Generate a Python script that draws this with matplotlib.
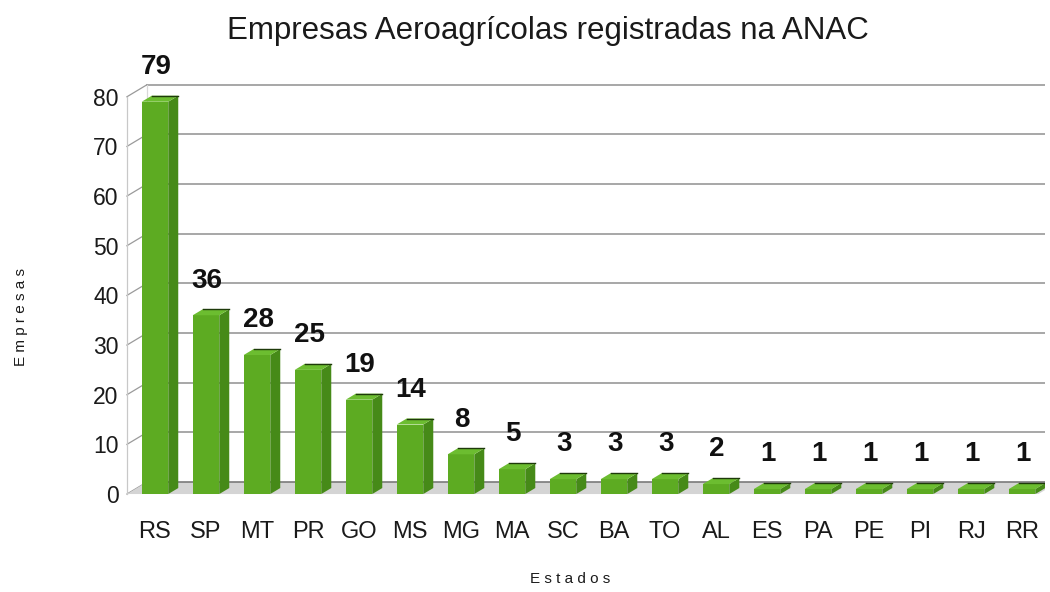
import matplotlib.pyplot as plt
from matplotlib.patches import Polygon

# data
estados = ['RS', 'SP', 'MT', 'PR', 'GO', 'MS', 'MG', 'MA', 'SC',
           'BA', 'TO', 'AL', 'ES', 'PA', 'PE', 'PI', 'RJ', 'RR']
empresas = [79, 36, 28, 25, 19, 14, 8, 5, 3, 3, 3, 2, 1, 1, 1, 1, 1, 1]
yticks = [0, 10, 20, 30, 40, 50, 60, 70, 80]

plt.rcParams['font.family'] = ['Liberation Sans', 'DejaVu Sans']

fig = plt.figure(figsize=(10.5, 5.92), dpi=100)
ax = fig.add_axes([120 / 1050, 92 / 592, 925 / 1050, 438 / 592])
ax.set_xlim(-0.686, 17.45)
ax.set_ylim(-1.2, 87)

# pixel -> data unit conversions for the fake 3d depth
px_x = 925 / (17.45 + 0.686)
px_y = 438 / (87 + 1.2)
wall_dx, wall_dy = 20 / px_x, 12 / px_y
bar_dx, bar_dy = 10 / px_x, 6 / px_y

x_left = -0.55
x_right = 17.32
bw = 0.52

# floor
floor = Polygon([(x_left, 0), (x_right, 0), (x_right + wall_dx, wall_dy),
                 (x_left + wall_dx, wall_dy)], closed=True,
                facecolor='#d4d4d4', edgecolor='none', zorder=1)
ax.add_patch(floor)
ax.plot([x_left + wall_dx, x_right + wall_dx], [wall_dy, wall_dy],
        color='#7a7a7a', lw=1.2, zorder=1.5)

# gridlines on back wall + diagonals on left wall
for v in yticks:
    if v > 0:
        ax.plot([x_left + wall_dx, x_right + wall_dx], [v + wall_dy, v + wall_dy],
                color='#a0a0a0', lw=1.3, zorder=0.5)
    ax.plot([x_left, x_left + wall_dx], [v, v + wall_dy],
            color='#9a9a9a', lw=0.9, zorder=0.5)
ax.plot([x_left, x_left], [0, 80], color='#c8c8c8', lw=0.9, zorder=0.5)
ax.plot([x_left + wall_dx, x_left + wall_dx], [wall_dy, 80 + wall_dy],
        color='#d8d8d8', lw=0.9, zorder=0.5)

# bars
for i, v in enumerate(empresas):
    x0 = i - bw / 2
    x1 = i + bw / 2
    front = Polygon([(x0, 0), (x1, 0), (x1, v), (x0, v)], closed=True,
                    facecolor='#5dab22', edgecolor='none', zorder=3)
    side = Polygon([(x1, 0), (x1 + bar_dx, bar_dy), (x1 + bar_dx, v + bar_dy),
                    (x1, v)], closed=True, facecolor='#468a18',
                   edgecolor='none', zorder=3)
    top = Polygon([(x0, v), (x1, v), (x1 + bar_dx, v + bar_dy),
                   (x0 + bar_dx, v + bar_dy)], closed=True,
                  facecolor='#6cbd30', edgecolor='none', zorder=3)
    for p in (front, side, top):
        ax.add_patch(p)
    ax.plot([x0 + bar_dx, x1 + bar_dx], [v + bar_dy, v + bar_dy],
            color='#1e3a0a', lw=1.0, zorder=3.5)
    ax.text(i + 0.02, v + 7.0, str(v), ha='center', va='center',
            fontsize=20, fontweight='bold', color='#111111', zorder=4)

for s in ax.spines.values():
    s.set_visible(False)
ax.set_xticks(range(len(estados)))
ax.set_xticklabels(estados, fontsize=17, color='#1a1a1a')
ax.set_yticks(yticks)
ax.set_yticklabels([str(v) for v in yticks], fontsize=16.5, color='#1a1a1a')
ax.tick_params(axis='both', length=0)
ax.tick_params(axis='x', pad=15)
ax.tick_params(axis='y', pad=1)

fig.text(0.522, 0.948, 'Empresas Aeroagrícolas registradas na ANAC',
         ha='center', va='center', fontsize=22.5, color='#1a1a1a')
fig.text(0.543, 0.022, 'E s t a d o s', ha='center', va='center',
         fontsize=11, color='#1a1a1a')
fig.text(0.02, 0.465, 'E m p r e s a s', ha='center', va='center',
         rotation=90, fontsize=11, color='#1a1a1a')

fig.savefig('out.png', dpi=100, facecolor='white')
